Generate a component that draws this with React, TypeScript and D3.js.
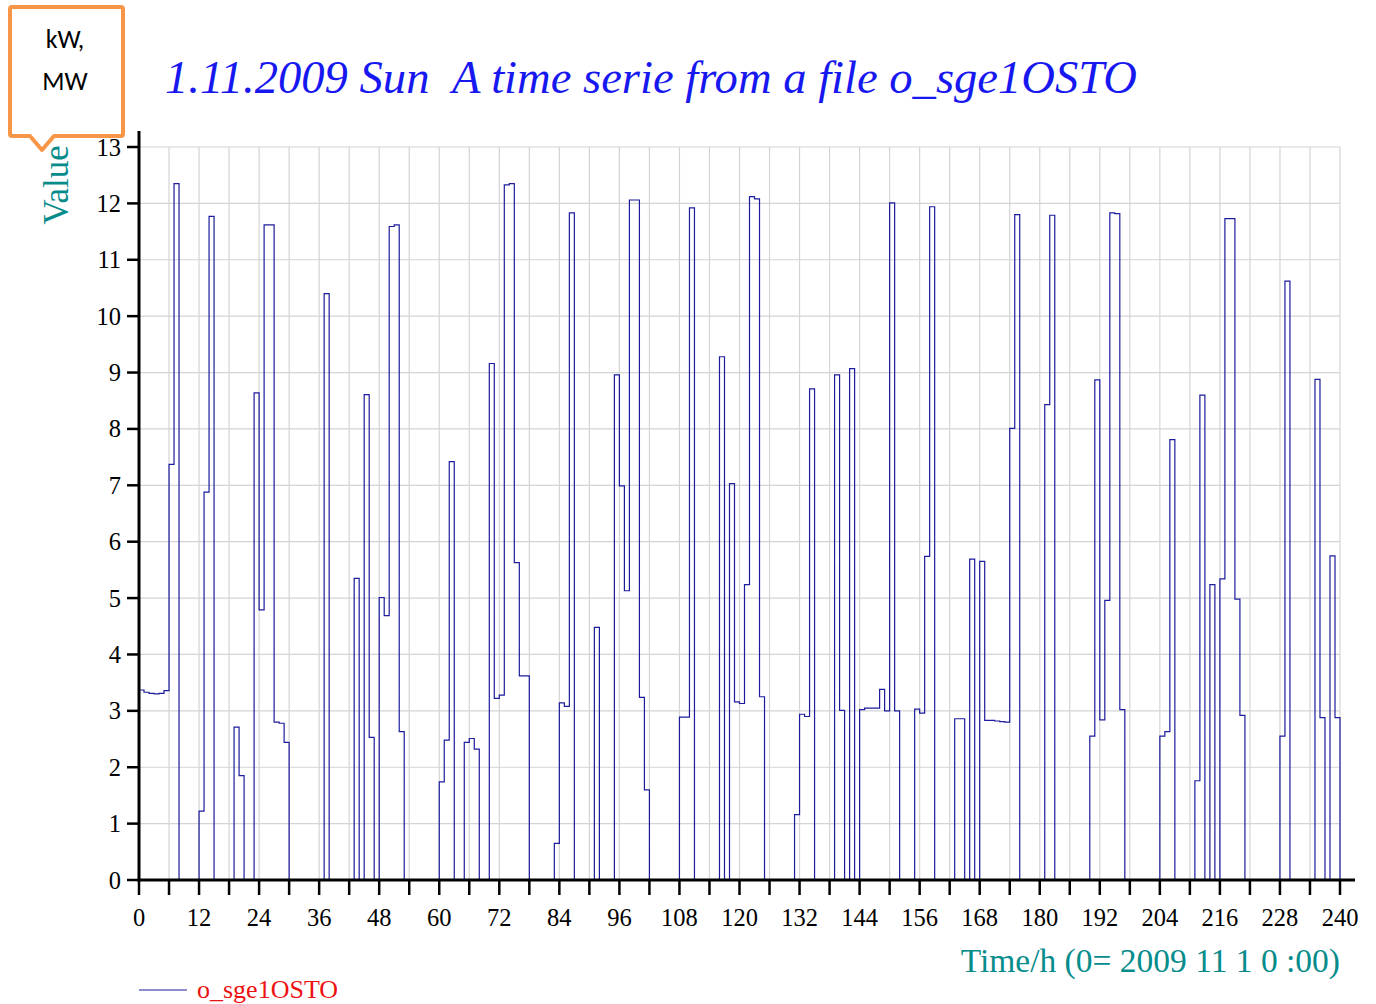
import React from "react";
import * as d3 from "d3";

// Hourly values, one array per day (kW / MW)
const day1 = [3.37, 3.33, 3.31, 3.3, 3.31, 3.36, 7.37, 12.35, 0, 0, 0, 0, 1.22, 6.88, 11.77, 0, 0, 0, 0, 2.71, 1.85, 0, 0, 8.64];
const day2 = [4.79, 11.62, 11.62, 2.8, 2.78, 2.44, 0, 0, 0, 0, 0, 0, 0, 10.4, 0, 0, 0, 0, 0, 5.35, 0, 8.61, 2.53, 0];
const day3 = [5.01, 4.69, 11.59, 11.62, 2.63, 0, 0, 0, 0, 0, 0, 0, 1.74, 2.48, 7.42, 0, 0, 2.44, 2.51, 2.32, 0, 0, 9.16, 3.22];
const day4 = [3.28, 12.33, 12.35, 5.63, 3.62, 3.62, 0, 0, 0, 0, 0, 0.65, 3.14, 3.08, 11.83, 0, 0, 0, 0, 4.48, 0, 0, 0, 8.96];
const day5 = [6.99, 5.13, 12.06, 12.06, 3.24, 1.6, 0, 0, 0, 0, 0, 0, 2.89, 2.89, 11.92, 0, 0, 0, 0, 0, 9.28, 0, 7.03, 3.16];
const day6 = [3.13, 5.24, 12.12, 12.08, 3.25, 0, 0, 0, 0, 0, 0, 1.16, 2.94, 2.9, 8.71, 0, 0, 0, 0, 8.96, 3.01, 0, 9.07, 0];
const day7 = [3.02, 3.05, 3.05, 3.05, 3.38, 3.0, 12.01, 3.0, 0, 0, 0, 3.03, 2.96, 5.74, 11.94, 0, 0, 0, 0, 2.86, 2.86, 0, 5.69, 0];
const day8 = [5.65, 2.83, 2.83, 2.82, 2.81, 2.8, 8.01, 11.8, 0, 0, 0, 0, 0, 8.43, 11.79, 0, 0, 0, 0, 0, 0, 0, 2.55, 8.87];
const day9 = [2.84, 4.96, 11.83, 11.82, 3.02, 0, 0, 0, 0, 0, 0, 0, 2.55, 2.63, 7.81, 0, 0, 0, 0, 1.76, 8.6, 0, 5.24, 0];
const day10 = [5.34, 11.73, 11.73, 4.98, 2.92, 0, 0, 0, 0, 0, 0, 0, 2.55, 10.62, 0, 0, 0, 0, 0, 8.88, 2.88, 0, 5.75, 2.88];

const yTicks = d3.range(0, 14);
const xTicks = d3.range(0, 241, 6);
const xLabelTicks = d3.range(0, 241, 12);

const titleText = "1.11.2009 Sun  A time serie from a file o_sge1OSTO";
const yAxisTitle = "Value";
const xAxisTitle = "Time/h (0= 2009 11 1 0 :00)";
const seriesName = "o_sge1OSTO";
const unitNote = ["kW,", "MW"];

const W = 1376;
const H = 1004;
const left = 139;
const right = 1340;
const top = 147;
const bottom = 880;

const serif = "'Liberation Serif', 'Times New Roman', serif";
const sans = "'Carlito', 'Open Sans', 'Noto Sans', sans-serif";
const lineColor = "#1c1c9c";
const teal = "#078c8c";

export default function App() {
  const values = [...day1, ...day2, ...day3, ...day4, ...day5, ...day6, ...day7, ...day8, ...day9, ...day10];
  const points: [number, number][] = values.map((v, i) => [i, v]);
  points.push([values.length, 0]);

  const x = d3.scaleLinear().domain([0, 240]).range([left, right]);
  const y = d3.scaleLinear().domain([0, 13]).range([bottom, top]);

  const path = d3
    .line<[number, number]>()
    .x((d) => x(d[0]))
    .y((d) => y(d[1]))
    .curve(d3.curveStepAfter)(points) as string;

  return (
    <svg width={W} height={H} style={{ position: "absolute", left: 0, top: 0, background: "#fff" }}>
      <rect x={0} y={0} width={W} height={H} fill="#fff" />
      {/* grid */}
      {yTicks.map((t) => (
        <line key={"gy" + t} x1={left} x2={right} y1={y(t)} y2={y(t)} stroke="#d4d4d4" strokeWidth={1.2} />
      ))}
      {xTicks.map((t) => (
        <line key={"gx" + t} x1={x(t)} x2={x(t)} y1={top} y2={bottom} stroke="#d4d4d4" strokeWidth={1.2} />
      ))}

      {/* series */}
      <path d={path} fill="none" stroke={lineColor} strokeWidth={1.2} />

      {/* axes */}
      <line x1={left} x2={left} y1={131} y2={bottom + 1.5} stroke="#000" strokeWidth={3} />
      <line x1={left - 1.5} x2={1355} y1={bottom} y2={bottom} stroke="#000" strokeWidth={3} />
      {yTicks.map((t) => (
        <g key={"ty" + t}>
          <line x1={left - 12} x2={left} y1={y(t)} y2={y(t)} stroke="#000" strokeWidth={2.5} />
          <text x={left - 18} y={y(t)} dy="0.35em" textAnchor="end" fontFamily={serif} fontSize={24.5} fill="#000">
            {t}
          </text>
        </g>
      ))}
      {xTicks.map((t) => (
        <line key={"tx" + t} x1={x(t)} x2={x(t)} y1={bottom} y2={bottom + 15} stroke="#000" strokeWidth={2.5} />
      ))}
      {xLabelTicks.map((t) => (
        <text key={"lx" + t} x={x(t)} y={926} textAnchor="middle" fontFamily={serif} fontSize={24.5} fill="#000">
          {t}
        </text>
      ))}

      {/* titles */}
      <text
        x={165}
        y={93}
        fontFamily={serif}
        fontStyle="italic"
        fontSize={46.6}
        fill="#1717f0"
        style={{ whiteSpace: "pre" }}
      >
        {titleText}
      </text>
      <text
        transform={`translate(68,185) rotate(-90)`}
        textAnchor="middle"
        fontFamily={serif}
        fontSize={35}
        fill={teal}
      >
        {yAxisTitle}
      </text>
      <text x={right} y={972} textAnchor="end" fontFamily={serif} fontSize={33.5} fill={teal}>
        {xAxisTitle}
      </text>

      {/* legend */}
      <line x1={139} x2={187} y1={990} y2={990} stroke={lineColor} strokeWidth={1.2} />
      <text x={197} y={998} fontFamily={serif} fontSize={26} fill="#ee1111">
        {seriesName}
      </text>

      {/* unit callout */}
      <path
        d="M12,7 H121 Q123,7 123,9 V134 Q123,136 121,136 H54 L42,150 L30,136 H12 Q10,136 10,134 V9 Q10,7 12,7 Z"
        fill="#fff"
        stroke="#f79646"
        strokeWidth={4}
        strokeLinejoin="round"
      />
      <text x={65} y={48} textAnchor="middle" fontFamily={sans} fontSize={26} fill="#000">
        {unitNote[0]}
      </text>
      <text x={65} y={90} textAnchor="middle" fontFamily={sans} fontSize={26} fill="#000">
        {unitNote[1]}
      </text>
    </svg>
  );
}
